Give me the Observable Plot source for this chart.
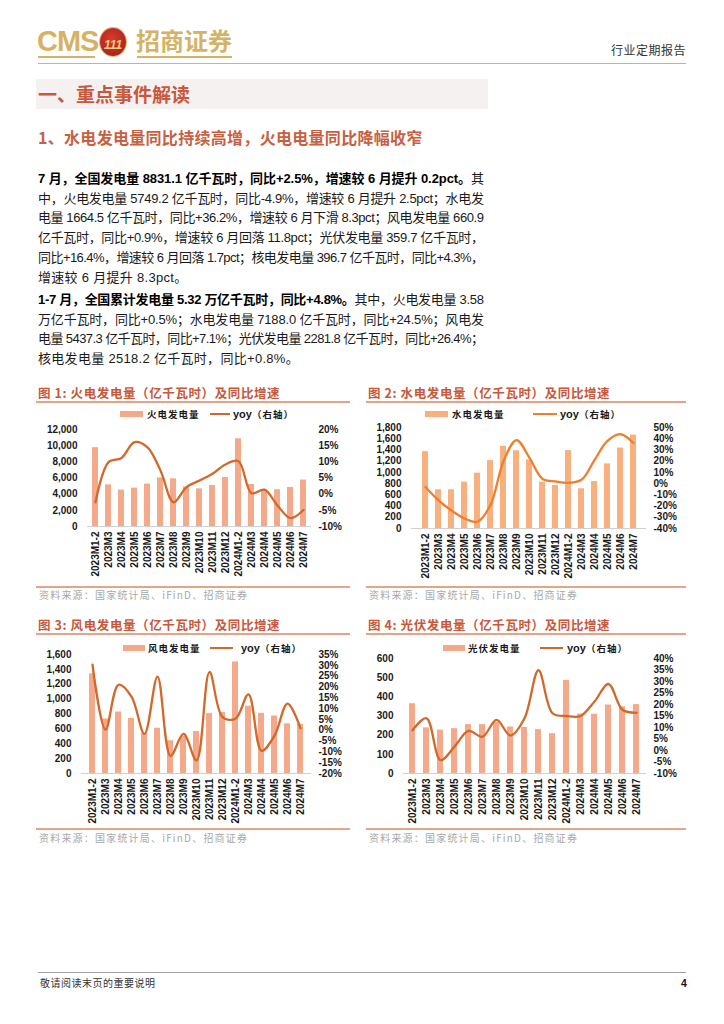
<!DOCTYPE html>
<html><head><meta charset="utf-8">
<script src="https://cdn.jsdelivr.net/npm/d3@7"></script>
<script src="https://cdn.jsdelivr.net/npm/@observablehq/plot@0.6"></script>
<style>
body{margin:0;background:#fff;}
#page{position:relative;width:724px;height:1024px;overflow:hidden;font-family:"Noto Sans CJK SC",sans-serif;color:#1a1a1a;background:#fff;}
.abs{position:absolute;white-space:nowrap;}
.pline{position:absolute;left:38px;white-space:nowrap;font-size:13px;line-height:16px;font-family:"Liberation Sans","Noto Sans CJK SC",sans-serif;color:#1a1a1a;}
.pline b{font-weight:700;color:#000;}
.ctitle{position:absolute;font-size:12.5px;font-weight:700;color:#C9573A;line-height:16px;white-space:nowrap;letter-spacing:0.6px;}
.rule{position:absolute;height:1.5px;background:#E3A48A;}
.legtext{position:absolute;font-size:9.5px;font-weight:700;line-height:12px;white-space:nowrap;color:#1a1a1a;letter-spacing:1px;}
.src{position:absolute;font-size:10px;color:#A8A8A8;line-height:12px;white-space:nowrap;letter-spacing:1.2px;}
</style>
</head><body>
<div id="page"></div>
<script>
// ---------------- data ----------------
const categories = ["2023M1-2","2023M3","2023M4","2023M5","2023M6","2023M7","2023M8","2023M9","2023M10","2023M11","2023M12","2024M1-2","2024M3","2024M4","2024M5","2024M6","2024M7"];
const thermalGen = [9750,5150,4500,4750,5240,6020,5900,4900,4660,5070,6060,10850,5200,4500,4540,4830,5749.2];
const thermalYoy = [-2.5,9.9,11.2,16.1,14.5,7.3,-2.5,2.2,4.2,6.3,9.2,10.2,0.3,1.4,-3.5,-7.4,-4.9];
const hydroGen = [1370,690,690,826,986,1210,1464,1387,1222,826,767,1387,708,838,1151,1434,1664.5];
const hydroYoy = [-3.1,-15,-24,-31,-34,-19,20,38.8,23,4.2,1.9,0.7,3.4,21,38,44,36.2];
const windGen = [1340,732,827,741,540,609,441,500,564,805,820,1500,905,809,773,668,660.9];
const windYoy = [30.3,0.3,21,15.5,-1.7,24.8,-11.9,-1.7,-13.9,26.9,6.1,5.3,16.6,-9.5,-2.5,12.3,0.9];
const solarGen = [364,238,226,234,255,255,266,243,240,229,208,486,310,309,357,348,359.7];
const solarYoy = [8.8,14,-4.2,1.7,8.5,6,13.3,6.5,14,34.9,16.2,15,15,21.3,28.9,17.7,16.4];

const chartTitles = ["图 1:  火电发电量（亿千瓦时）及同比增速","图 2:  水电发电量（亿千瓦时）及同比增速","图 3:  风电发电量（亿千瓦时）及同比增速","图 4:  光伏发电量（亿千瓦时）及同比增速"];
const barNames = ["火电发电量","水电发电量","风电发电量","光伏发电量"];
const lineName = "yoy（右轴）";
const sourceText = "资料来源：国家统计局、iFinD、招商证券";

const para1 = [
 "<b>7 月，全国发电量 8831.1 亿千瓦时，同比+2.5%，增速较 6 月提升 0.2pct。</b>其",
 "中，火电发电量 5749.2 亿千瓦时，同比-4.9%，增速较 6 月提升 2.5pct；水电发",
 "电量 1664.5 亿千瓦时，同比+36.2%，增速较 6 月下滑 8.3pct；风电发电量 660.9",
 "亿千瓦时，同比+0.9%，增速较 6 月回落 11.8pct；光伏发电量 359.7 亿千瓦时，",
 "同比+16.4%，增速较 6 月回落 1.7pct；核电发电量 396.7 亿千瓦时，同比+4.3%，",
 "增速较 6 月提升 8.3pct。"
];
const para2 = [
 "<b>1-7 月，全国累计发电量 5.32 万亿千瓦时，同比+4.8%。</b>其中，火电发电量 3.58",
 "万亿千瓦时，同比+0.5%；水电发电量 7188.0 亿千瓦时，同比+24.5%；风电发",
 "电量 5437.3 亿千瓦时，同比+7.1%；光伏发电量 2281.8 亿千瓦时，同比+26.4%；",
 "核电发电量 2518.2 亿千瓦时，同比+0.8%。"
];

// ---------------- page frame ----------------
const page = document.getElementById("page");
function add(html, style, cls){
  const d = document.createElement("div");
  d.className = cls || "abs";
  d.innerHTML = html;
  Object.assign(d.style, style);
  page.appendChild(d);
  return d;
}
// header
add("CMS",{left:"37px",top:"24px",fontFamily:"'Liberation Sans',Arial,sans-serif",fontWeight:"700",fontSize:"29px",color:"#D6B266",letterSpacing:"-1px",lineHeight:"34px"});
add("",{left:"38px",top:"56px",width:"57px",height:"1.5px",background:"#D6B266"});
add("<span style='font-style:italic;font-weight:700;font-size:12px;color:#F3D27A;font-family:Liberation Sans'>111</span>",{left:"100px",top:"28px",width:"26px",height:"28px",borderRadius:"50%",background:"radial-gradient(circle at 45% 40%, #D83A2E, #9E1B1B)",textAlign:"center",lineHeight:"28px",boxShadow:"0 0 0 1px #E2B85E"});
add("招商证券",{left:"136px",top:"25px",fontSize:"24px",fontWeight:"700",color:"#D6B266",lineHeight:"30px"});
add("",{left:"137px",top:"56px",width:"95px",height:"1.5px",background:"#D6B266"});
add("行业定期报告",{left:"611px",top:"43px",fontSize:"12px",color:"#333",lineHeight:"14px",letterSpacing:"0.5px"});
add("",{left:"38px",top:"63px",width:"648px",height:"1.2px",background:"#E3A48A"});
// section heading
add("一、重点事件解读",{left:"36px",top:"79px",width:"452px",height:"30px",background:"#F6F1F1",fontSize:"19px",fontWeight:"700",color:"#C8573B",lineHeight:"30px",paddingLeft:"2px",boxSizing:"border-box"});
add("1、水电发电量同比持续高增，火电电量同比降幅收窄",{left:"38px",top:"127px",fontSize:"16px",fontWeight:"700",color:"#C8603F",lineHeight:"20px",letterSpacing:"0.3px"});
// paragraphs
function placePara(lines, top){
  lines.forEach((t,i)=>{
    const d = add(t,{top:(top + i*19.7 - 8)+"px"},"pline");
    if(i < lines.length-1){
      const w = d.getBoundingClientRect().width;
      const n = d.textContent.length;
      const ls = (446 - w)/(n-1);
      d.style.letterSpacing = ls + "px";
    } else {
      d.style.letterSpacing = "0.3px";
    }
  });
}
placePara(para1, 179);
placePara(para2, 300);
// footer
add("",{left:"38px",top:"972px",width:"648px",height:"1px",background:"#A0A0A0"});
add("敬请阅读末页的重要说明",{left:"40px",top:"977px",fontSize:"10px",color:"#333",lineHeight:"12px",letterSpacing:"0.5px"});
add("4",{left:"681px",top:"977px",fontSize:"10.5px",fontWeight:"700",color:"#111",lineHeight:"12px",fontFamily:"Liberation Sans"});

// ---------------- charts ----------------
function makeChart(o){
  const data = categories.map((c,i)=>({cat:c, gen:o.gen[i], yoy:o.yoy[i]}));
  const toLeft = d3.scaleLinear().domain([o.rMin,o.rMax]).range([0,o.leftMax]);
  const rightTicks = d3.range(o.rMin, o.rMax + o.rStep/2, o.rStep);
  return Plot.plot({
    width:o.width, height:o.height,
    marginLeft:o.ml, marginRight:o.mr, marginTop:o.mt, marginBottom:o.mb,
    style:{fontFamily:'"Liberation Sans", Arial, sans-serif', fontSize:"10px", fontWeight:"bold", color:"#1a1a1a", background:"transparent", overflow:"visible"},
    x:{type:"band", domain:categories, paddingInner:0.56, paddingOuter:0.28, label:null, axis:null},
    y:{domain:[0,o.leftMax], label:null, axis:null},
    marks:[
      Plot.barY(data,{x:"cat", y:"gen", fill:o.barColor}),
      Plot.ruleY([0],{stroke:"#d0d0d0", strokeWidth:1}),
      Plot.line(data,{x:"cat", y:d=>toLeft(d.yoy), stroke:o.lineColor, strokeWidth:2.3, curve:"catmull-rom"}),
      Plot.axisY(d3.range(0,o.leftMax+1,o.leftStep), {anchor:"left", tickSize:0, tickPadding:10, tickFormat:d3.format(","), label:null}),
      Plot.axisY(rightTicks.map(v=>toLeft(v)), {anchor:"right", tickSize:0, tickPadding:7, tickFormat:v=>Math.round(toLeft.invert(v))+"%", label:null}),
      Plot.axisX({tickRotate:-90, tickSize:0, tickPadding:5, label:null})
    ]
  });
}

function placeChart(c){
  add(c.title,{left:(c.x0+2)+"px",top:(c.titleY-8)+"px"},"ctitle");
  add("",{left:c.x0+"px",top:c.ruleY+"px",width:(c.x1-c.x0)+"px"},"rule");
  add("",{left:c.sw[0]+"px",top:(c.legY-3)+"px",width:(c.sw[1]-c.sw[0])+"px",height:"6px",background:c.barColor});
  add(c.barName,{left:c.sw[2]+"px",top:(c.legY-6)+"px"},"legtext");
  add("",{left:c.ln[0]+"px",top:(c.legY-1.2)+"px",width:(c.ln[1]-c.ln[0])+"px",height:"2.4px",background:c.lineColor});
  add("<span style='font-family:Liberation Sans;font-size:11px;letter-spacing:0'>yoy</span>（右轴）",{left:c.ln[2]+"px",top:(c.legY-6)+"px"},"legtext");
  const svg = makeChart(c);
  const holder = add("",{left:c.svgX+"px",top:c.svgY+"px"});
  holder.appendChild(svg);
  add("",{left:c.x0+"px",top:c.bRuleY+"px",width:(c.x1-c.x0)+"px"},"rule");
  add(sourceText,{left:(c.x0+3)+"px",top:(c.srcY-6)+"px"},"src");
}

const salmon = "#F3A98A";
placeChart({title:chartTitles[0], barName:barNames[0], gen:thermalGen, yoy:thermalYoy,
  x0:36, x1:350, titleY:393, ruleY:401, legY:414, bRuleY:586, srcY:595,
  sw:[120,143,147], ln:[210,230,233],
  barColor:salmon, lineColor:"#D2692A",
  leftMax:12000, leftStep:2000, rMin:-10, rMax:20, rStep:5,
  svgX:36, svgY:420, width:318, height:160, ml:51, mr:43, mt:9, mb:54});
placeChart({title:chartTitles[1], barName:barNames[1], gen:hydroGen, yoy:hydroYoy,
  x0:366, x1:686, titleY:393, ruleY:401, legY:414, bRuleY:586, srcY:595,
  sw:[425,448,452], ln:[533,557,560],
  barColor:"#F7B07E", lineColor:"#F07E2C",
  leftMax:1800, leftStep:200, rMin:-40, rMax:50, rStep:10,
  svgX:366, svgY:418, width:320, height:162, ml:45, mr:40, mt:9, mb:52});
placeChart({title:chartTitles[2], barName:barNames[2], gen:windGen, yoy:windYoy,
  x0:36, x1:350, titleY:625, ruleY:633, legY:648, bRuleY:828, srcY:838,
  sw:[123,145,148], ln:[210,233,241],
  barColor:salmon, lineColor:"#D2692A",
  leftMax:1600, leftStep:200, rMin:-20, rMax:35, rStep:5,
  svgX:36, svgY:645, width:318, height:180, ml:45, mr:43, mt:9, mb:52});
placeChart({title:chartTitles[3], barName:barNames[3], gen:solarGen, yoy:solarYoy,
  x0:366, x1:686, titleY:625, ruleY:633, legY:648, bRuleY:828, srcY:838,
  sw:[443,465,468], ln:[540,563,567],
  barColor:salmon, lineColor:"#D2692A",
  leftMax:600, leftStep:100, rMin:-10, rMax:40, rStep:5,
  svgX:366, svgY:649, width:320, height:176, ml:37, mr:40, mt:9, mb:52});
</script>
</body></html>
